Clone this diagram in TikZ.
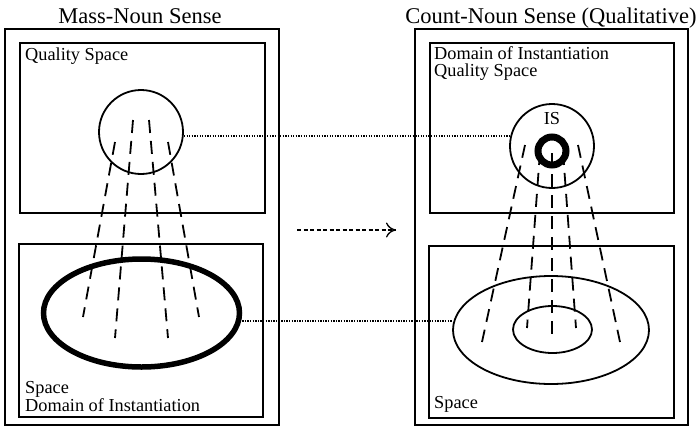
\documentclass[tikz,border=0pt]{standalone}
\usepackage{fontspec}
\setmainfont{Liberation Serif}
\usetikzlibrary{arrows.meta,shapes.geometric}
\begin{document}
\begin{tikzpicture}[x=1pt,y=-1pt,
  box/.style={draw,line width=1.8pt},
  title/.style={font=\fontsize{22.5}{24}\selectfont,anchor=base,inner sep=0pt},
  lbl/.style={font=\fontsize{18.3}{17}\selectfont,anchor=base west,inner sep=0pt},
  ray/.style={line width=1.8pt,dash pattern=on 13pt off 8pt},
  ring/.style={draw,line width=1.8pt,inner sep=0pt},
  link/.style={line width=1.2pt,dash pattern=on 1.3pt off 1.3pt}]
\useasboundingbox (0,0) rectangle (699,432);
% titles
\node[title] (t1) at (140,23) {Mass-Noun Sense};
\node[title] (t2) at (551,23) {Count-Noun Sense (Qualitative)};
% left panel
\draw[box] (5,29) rectangle (279,425);
\draw[box] (20,43) rectangle (265,213);
\draw[box] (19,244) rectangle (263,417);
\node[lbl] (lq) at (25,60) {Quality Space};
\node[lbl] (ls) at (25,393) {Space};
\node[lbl] (ld) at (25,411) {Domain of Instantiation};
\node[circle,ring,minimum size=84pt] (c1) at (141,132) {};
\node[ellipse,ring,line width=5.5pt,minimum width=196pt,minimum height=108pt] (e1) at (141.5,313) {};
\draw[ray] (115,142) -- (83,317);
\draw[ray] (133,120) -- (115,338);
\draw[ray] (149,120) -- (168,338);
\draw[ray] (168,142) -- (199,317);
% right panel
\draw[box] (415,29) rectangle (688,425);
\draw[box] (430,43) rectangle (674,213);
\draw[box] (429,246) rectangle (674,418);
\node[lbl] (rd) at (434,59) {Domain of Instantiation};
\node[lbl] (rq) at (434,76) {Quality Space};
\node[lbl] (rs) at (434,408) {Space};
\node[circle,ring,minimum size=84pt] (c2) at (552,146) {};
\node[circle,ring,line width=7pt,minimum size=28pt] (c3) at (552,151) {};
\node[font=\fontsize{18.3}{18}\selectfont,inner sep=0pt] (is) at (552,119) {IS};
\node[ellipse,ring,minimum width=196pt,minimum height=108pt] (e2) at (551,330) {};
\node[ellipse,ring,minimum width=79pt,minimum height=47pt] (e3) at (552.5,329.5) {};
\draw[ray] (525,145) -- (482,342);
\draw[ray] (540,152) -- (527,328);
\draw[ray] (552,153) -- (552,336);
\draw[ray] (563,152) -- (576,328);
\draw[ray] (578,145) -- (620,342);
% links
\draw[link] (c1.east |- 0,136) -- (c2.west |- 0,136);
\draw[link] (e1.east |- 0,321) -- (e2.west |- 0,321);
% arrow
\coordinate (a1) at (297,230);
\coordinate (a2) at (396,230);
\draw[line width=1.3pt,dash pattern=on 4pt off 2.5pt,-{To[length=10pt,width=15pt,line width=1.3pt]}] (a1) -- (a2);
\end{tikzpicture}
\end{document}
